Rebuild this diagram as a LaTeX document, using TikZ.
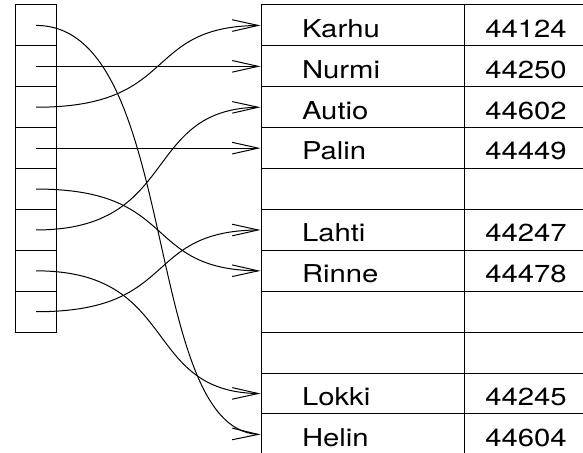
\documentclass[tikz,border=0pt]{standalone}
\usepackage{fontspec}
\newfontfamily\cellfont{TeX Gyre Heros}[FakeStretch=1.19]
\usepackage{tikz}
\usetikzlibrary{arrows.meta, bending}

\tikzset{
  slot/.style = {draw, line width=0.5pt, minimum width=20.5pt, minimum height=20.45pt, inner sep=0pt},
  namecell/.style = {draw, line width=0.5pt, minimum height=20.45pt, inner xsep=20.5pt, text width=60.5pt,
                     align=left, text height=11.85pt, text depth=0pt, font=\cellfont\fontsize{12.3}{14}\selectfont},
  numcell/.style = {draw, line width=0.5pt, minimum width=62pt, minimum height=20.45pt,
                    text height=11.85pt, text depth=0pt, font=\cellfont\fontsize{12.3}{14}\selectfont},
  ptr/.style = {line width=0.5pt, -{Straight Barb[length=13pt, width=5.8pt]}}
}

\begin{document}
\begin{tikzpicture}[x=0.5pt, y=-0.5pt]
  \useasboundingbox (0,0) rectangle (583,453);
  \clip (0,0) rectangle (583,453);

  % index slots
  \foreach \i in {1,...,8}
    \node[slot] (s\i) at (36.2, {5+40.9*(\i-0.5)}) {};

  % record table
  \foreach \name/\phone [count=\i] in {Karhu/44124, Nurmi/44250, Autio/44602, Palin/44449, {}/{},
      Lahti/44247, Rinne/44478, {}/{}, {}/{}, Lokki/44245, Helin/44604} {
    \node[namecell] (n\i) at (362.5, {5+40.9*(\i-0.5)}) {\name};
    \node[numcell] (p\i) at (526, {5+40.9*(\i-0.5)}) {\phone};
  }

  % pointers
  \draw[ptr] (s1.center) .. controls +(145,0) and +(-120,0) .. (n11.west);
  \draw[ptr] (s2.center) -- (n2.west);
  \draw[ptr] (s3.center) .. controls +(145,0) and +(-120,0) .. (n1.west);
  \draw[ptr] (s4.center) -- (n4.west);
  \draw[ptr] (s5.center) .. controls +(145,0) and +(-120,0) .. (n7.west);
  \draw[ptr] (s6.center) .. controls +(145,0) and +(-120,0) .. (n3.west);
  \draw[ptr] (s7.center) .. controls +(145,0) and +(-120,0) .. (n10.west);
  \draw[ptr] (s8.center) .. controls +(145,0) and +(-120,0) .. (n6.west);
\end{tikzpicture}
\end{document}
